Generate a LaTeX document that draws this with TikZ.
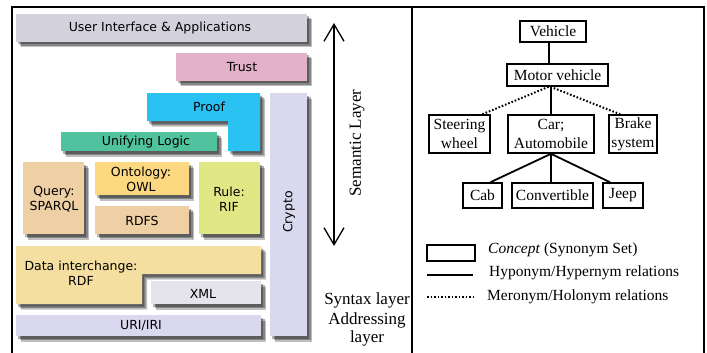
\documentclass[tikz,border=0pt]{standalone}
\usepackage{fontspec}
\setmainfont{Liberation Serif}
\newfontfamily\stackfont{DejaVu Sans}
\usetikzlibrary{arrows.meta}
\definecolor{uigray}{RGB}{211,209,219}
\definecolor{trustpink}{RGB}{227,178,201}
\definecolor{proofblue}{RGB}{41,194,242}
\definecolor{cryptolav}{RGB}{218,216,238}
\definecolor{logicgreen}{RGB}{80,194,158}
\definecolor{querytan}{RGB}{239,207,164}
\definecolor{owlyellow}{RGB}{252,216,128}
\definecolor{rulelime}{RGB}{226,231,134}
\definecolor{rdfcream}{RGB}{244,223,161}
\definecolor{xmlgray}{RGB}{228,228,234}

\tikzset{
  layer/.style={fill=#1,
    preaction={fill=black,opacity=.3,transform canvas={shift={(2pt,-2.5pt)}}},
    preaction={fill=black,opacity=.3,transform canvas={shift={(3.5pt,-4pt)}}},
    preaction={fill=black,opacity=.25,transform canvas={shift={(5pt,-5.5pt)}}}},
  stacklabel/.style={font=\stackfont\fontsize{12.5}{15}\selectfont,align=center,inner sep=0pt},
  sidelabel/.style={font=\fontsize{17}{18}\selectfont,align=center,inner sep=0pt},
  concept/.style={draw,line width=1.6pt,inner sep=1pt,align=center,
    font=\fontsize{15.5}{19}\selectfont},
  legendtext/.style={font=\fontsize{15.5}{19}\selectfont,anchor=west,inner sep=0pt},
  hypo/.style={line width=1.8pt},
  mero/.style={line width=2pt,dash pattern=on 1.6pt off 1.9pt},
  frame/.style={line width=2pt},
  updown/.style={line width=1.3pt,{Straight Barb[length=17pt,width=20pt]}-{Straight Barb[length=17pt,width=20pt]}}
}

\begin{document}
\begin{tikzpicture}[x=1pt,y=-1pt]
\useasboundingbox (0,0) rectangle (707,353);
\fill[white] (0,0) rectangle (707,353);

\draw[frame] (12,353) -- (12,7) -- (704,7) -- (704,353);
\draw[frame] (412,7) -- (412,353);

% semantic web stack
\path[layer=uigray] (16,14) rectangle (307,42);
\node[stacklabel] (ui) at (160,28) {User Interface \& Applications};
\path[layer=trustpink] (176,53) rectangle (307,81);
\node[stacklabel] (trust) at (242,67) {Trust};
\path[layer=cryptolav] (270,93) rectangle (307,336);
\node[stacklabel,rotate=90] (crypto) at (289,212) {Crypto};
\path[layer=proofblue] (147,93) -- (260,93) -- (260,151) -- (228,151) -- (228,121) -- (147,121) -- cycle;
\node[stacklabel] (proof) at (209,107) {Proof};
\path[layer=logicgreen] (61,132) rectangle (217,151);
\node[stacklabel] (logic) at (146,142) {Unifying Logic};
\path[layer=querytan] (23,162) rectangle (84,234);
\node[stacklabel] (query) at (54,199.5) {Query:\\SPARQL};
\path[layer=owlyellow] (95,162) rectangle (189,195);
\node[stacklabel] (owl) at (141,179.5) {Ontology:\\OWL};
\path[layer=querytan] (95,206) rectangle (189,234);
\node[stacklabel] (rdfs) at (142,221) {RDFS};
\path[layer=rulelime] (199,162) rectangle (260,234);
\node[stacklabel] (rule) at (229,199.5) {Rule:\\RIF};
\path[layer=rdfcream] (16,246) -- (261,246) -- (261,274) -- (142,274) -- (142,304) -- (16,304) -- cycle;
\node[stacklabel] (rdf) at (81,273.5) {Data interchange:\\RDF};
\path[layer=xmlgray] (151,281) rectangle (261,304);
\node[stacklabel] (xml) at (203,293.5) {XML};
\path[layer=cryptolav] (16,315) rectangle (261,336);
\node[stacklabel] (uri) at (141,326) {URI/IRI};

% layers
\coordinate (semtop) at (334,23);
\coordinate (sembot) at (334,246);
\draw[updown] (semtop) -- (sembot);
\node[sidelabel,rotate=90] (semantic) at (357,143) {Semantic Layer};
\node[sidelabel] (syntax) at (367,300) {Syntax layer};
\node[sidelabel] (addressing) at (367,329) {Addressing\\layer};

% wordnet
\node[concept,minimum width=66pt,minimum height=21pt] (vehicle) at (553,31.5) {Vehicle};
\node[concept,minimum width=101pt,minimum height=22pt] (motor) at (557.5,75) {Motor vehicle};
\node[concept,minimum width=61pt,minimum height=38pt] (steering) at (459.5,134) {Steering\\wheel};
\node[concept,minimum width=86pt,minimum height=38pt] (car) at (551,134) {Car;\\Automobile};
\node[concept,minimum width=48pt,minimum height=38pt] (brake) at (633,134) {Brake\\system};
\node[concept,minimum width=39pt,minimum height=25pt] (cab) at (482.5,195.5) {Cab};
\node[concept,minimum width=81pt,minimum height=25pt] (convertible) at (552.5,195.5) {Convertible};
\node[concept,minimum width=40pt,minimum height=25pt] (jeep) at (623,195.5) {Jeep};

\draw[hypo] ([xshift=-4pt]vehicle.south) -- ([xshift=-4pt]vehicle.south |- motor.north);
\draw[hypo] (motor.south -| car.north) -- (car.north);
\draw[mero] ([xshift=-9pt]motor.south) -- ([xshift=23pt]steering.north);
\draw[mero] ([xshift=-7pt]motor.south) -- ([xshift=-13pt]brake.north);
\draw[hypo] (car.south) -- ([xshift=8pt]cab.north);
\draw[hypo] (car.south) -- (car.south |- convertible.north);
\draw[hypo] (car.south) -- ([xshift=-13pt]jeep.north);

% legend
\node[concept,minimum width=48pt,minimum height=16pt] (legbox) at (451,253) {};
\node[legendtext] (legconcept) at (488,250) {\textit{Concept} (Synonym Set)};
\coordinate (hypoa) at (427,275);
\coordinate (hypob) at (473,275);
\draw[hypo] (hypoa) -- (hypob);
\node[legendtext] (leghypo) at (489,273) {Hyponym/Hypernym relations};
\coordinate (meroa) at (427,297);
\coordinate (merob) at (473,297);
\draw[mero] (meroa) -- (merob);
\node[legendtext] (legmero) at (487,297) {Meronym/Holonym relations};
\end{tikzpicture}
\end{document}
